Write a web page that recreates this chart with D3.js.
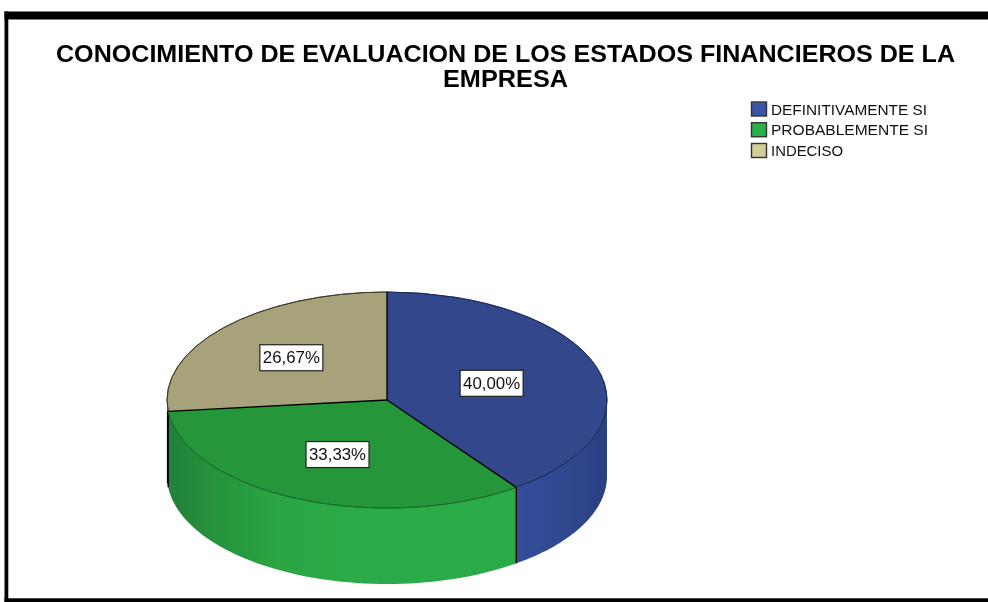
<!DOCTYPE html>
<html><head><meta charset="utf-8">
<script src="https://cdn.jsdelivr.net/npm/d3@7"></script>
<style>html,body{margin:0;padding:0;background:#fff}svg{display:block}text{font-family:"Liberation Sans",Arial,sans-serif}</style>
</head><body><svg id="c" width="988" height="602"></svg>
<script>
const categories = ["DEFINITIVAMENTE SI", "PROBABLEMENTE SI", "INDECISO"];
const values = [40.00, 33.33, 26.67];
const valueLabels = ["40,00%", "33,33%", "26,67%"];
const titleLines = ["CONOCIMIENTO DE EVALUACION DE LOS ESTADOS FINANCIEROS DE LA", "EMPRESA"];
const topColors = ["#30468c", "#26963b", "#a8a27a"];
const legendColors = ["#3a55a8", "#2bb04a", "#d3ce97"];

const svg = d3.select("#c");
const W = 988, H = 602, cx = 387, cy = 400, rx = 220, ry = 108, depth = 76;
const labelRadii = [0.5, 0.553, 0.585];
const titleWidths = [899, 125];
const legendWidths = [156, 157, 72];

const defs = svg.append("defs");
defs.append("filter").attr("id", "soft").append("feGaussianBlur").attr("stdDeviation", 0.45);
function grad(id, stops) {
  const g = defs.append("linearGradient").attr("id", id).attr("gradientUnits", "userSpaceOnUse")
    .attr("x1", cx - rx).attr("x2", cx + rx).attr("y1", 0).attr("y2", 0);
  stops.forEach(s => g.append("stop").attr("offset", s[0]).attr("stop-color", s[1]));
}
grad("wall0", [[0, "#2f4a96"], [0.68, "#2f4a96"], [0.8, "#324d99"], [0.9, "#2f4890"], [1, "#2b3f80"]]);
grad("wall1", [[0, "#22803a"], [0.1, "#26913c"], [0.25, "#2aa543"], [0.4, "#2bab46"], [0.8, "#2bab46"], [1, "#2aa544"]]);
grad("wall2", [[0, "#7d7a5a"], [1, "#7d7a5a"]]);

// frame
svg.append("rect").attr("x", 4.5).attr("y", 11.5).attr("width", W).attr("height", 8).attr("fill", "#000");
svg.append("rect").attr("x", 4.5).attr("y", 11.5).attr("width", 3.8).attr("height", H).attr("fill", "#000");
svg.append("rect").attr("x", 4.5).attr("y", 598.3).attr("width", W).attr("height", 4).attr("fill", "#000");

const art = svg.append("g").attr("filter", "url(#soft)");

// title
art.selectAll("text.title").data(titleLines).join("text").attr("class", "title")
  .attr("x", 505.5).attr("y", (d, i) => 62 + i * 25)
  .attr("text-anchor", "middle").attr("font-size", 23).attr("font-weight", 700).attr("fill", "#000")
  .attr("textLength", (d, i) => titleWidths[i]).attr("lengthAdjust", "spacingAndGlyphs")
  .text(d => d);

// legend
const legendY = d3.scalePoint().domain(categories).range([109, 150.5]);
const leg = art.selectAll("g.leg").data(categories).join("g").attr("class", "leg")
  .attr("transform", d => `translate(751,${legendY(d)})`);
leg.append("rect").attr("x", 0.5).attr("y", -7).attr("width", 15).attr("height", 14)
  .attr("fill", (d, i) => legendColors[i]).attr("stroke", "#333").attr("stroke-width", 1.4);
leg.append("text").attr("x", 20).attr("y", 5.5).attr("font-size", 15).attr("fill", "#111")
  .attr("textLength", (d, i) => legendWidths[i])
  .attr("lengthAdjust", "spacingAndGlyphs").text(d => d);

// pie
const pie = d3.pie().sort(null).value(d => d)(values);
const px = a => cx + rx * Math.sin(a);
const py = a => cy - ry * Math.cos(a);

// side walls (front half only: angle range PI/2 .. 3PI/2)
const area = d3.area().x(a => px(a)).y0(a => py(a)).y1(a => py(a) + depth);
pie.forEach((s, i) => {
  const a0 = Math.max(s.startAngle, Math.PI / 2), a1 = Math.min(s.endAngle, 1.5 * Math.PI);
  if (a1 <= a0) return;
  const angles = d3.range(0, 61).map(k => a0 + (a1 - a0) * k / 60);
  art.append("path").attr("d", area(angles)).attr("fill", `url(#wall${i})`);
});
const seamAngles = pie.map(s => s.startAngle).filter(a => a > Math.PI / 2 && a < 1.5 * Math.PI);
art.selectAll("line.seam").data(seamAngles).join("line").attr("class", "seam")
  .attr("x1", px).attr("x2", px).attr("y1", py).attr("y2", a => py(a) + depth)
  .attr("stroke", "#000").attr("stroke-width", 1.4);
art.append("line").attr("x1", px(1.5 * Math.PI) + 0.5).attr("x2", px(1.5 * Math.PI) + 0.5)
  .attr("y1", py(pie[2].startAngle)).attr("y2", py(pie[2].startAngle) + depth - 4)
  .attr("stroke", "#000").attr("stroke-width", 1.2);

// top faces: d3.arc in a vertically squashed group
const arc = d3.arc().innerRadius(0).outerRadius(rx);
const face = art.append("g").attr("transform", `translate(${cx},${cy}) scale(1,${ry / rx})`);
face.selectAll("path.slice").data(pie).join("path").attr("class", "slice").attr("d", arc)
  .attr("fill", (d, i) => topColors[i]);
// rim, thin
const rimArc = d3.arc().innerRadius(rx).outerRadius(rx);
face.selectAll("path.rim").data(pie).join("path").attr("class", "rim")
  .attr("d", rimArc)
  .attr("fill", "none").attr("stroke", (d, i) => i === 0 ? "#1c2a58" : i === 1 ? "#176a2b" : "#3a3828")
  .attr("stroke-width", 0.9).attr("vector-effect", "non-scaling-stroke");
// radial separators
art.selectAll("line.rad").data(pie).join("line").attr("class", "rad")
  .attr("x1", cx).attr("y1", cy).attr("x2", d => px(d.startAngle)).attr("y2", d => py(d.startAngle))
  .attr("stroke", "#000").attr("stroke-width", 1.3);

// value labels
const lab = art.selectAll("g.lab").data(pie).join("g").attr("class", "lab")
  .attr("transform", (d, i) => {
    const m = (d.startAngle + d.endAngle) / 2, k = labelRadii[i];
    return `translate(${cx + rx * k * Math.sin(m)},${cy - ry * k * Math.cos(m)})`;
  });
lab.append("rect").attr("x", -31.5).attr("y", -13).attr("width", 63).attr("height", 26)
  .attr("fill", "#fff").attr("stroke", "#222").attr("stroke-width", 1.2);
lab.append("text").attr("text-anchor", "middle").attr("y", 5.5).attr("font-size", 16).attr("fill", "#111")
  .attr("textLength", 57).attr("lengthAdjust", "spacingAndGlyphs")
  .text((d, i) => valueLabels[i]);
</script></body></html>
